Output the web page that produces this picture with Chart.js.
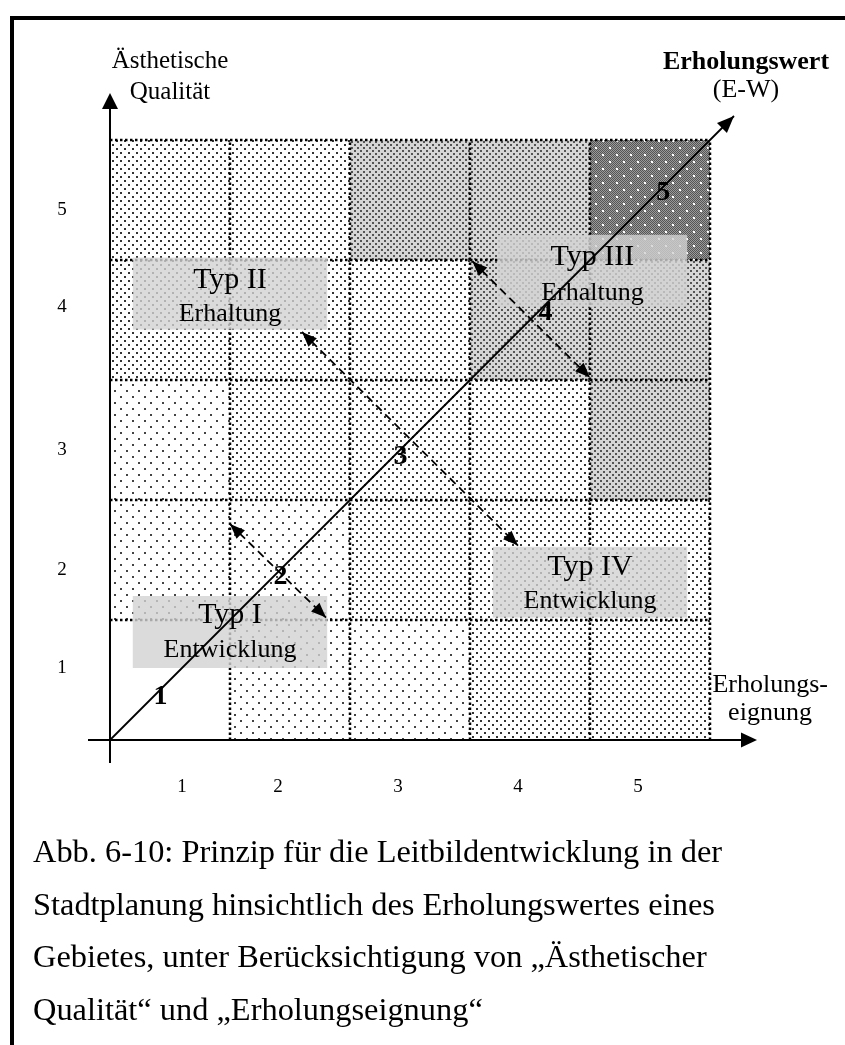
<!DOCTYPE html>
<html lang="de">
<head>
<meta charset="utf-8">
<script src="https://cdn.jsdelivr.net/npm/chart.js@4.4.1/dist/chart.umd.min.js"></script>
<style>
  html, body { margin: 0; padding: 0; background: #fff; }
  body { width: 845px; height: 1045px; position: relative; overflow: hidden; }
  #moldura { position: absolute; left: 10px; top: 16px; width: 850px; height: 1050px;
             border-left: 4px solid #000; border-top: 4px solid #000; }
  #grafico { position: absolute; left: 0; top: 0; }
  #legenda { position: absolute; left: 33px; top: 825px; color: #000; white-space: nowrap;
             font-family: "Liberation Serif", "Times New Roman", serif; font-size: 32.4px; line-height: 52.5px; }
</style>
</head>
<body>
<div id="moldura"></div>
<canvas id="grafico" width="845" height="1045"></canvas>
<div id="legenda">Abb. 6-10: Prinzip für die Leitbildentwicklung in der<br>Stadtplanung hinsichtlich des Erholungswertes eines<br>Gebietes, unter Berücksichtigung von „Ästhetischer<br>Qualität“ und „Erholungseignung“</div>

<script>
// Rótulos dos eixos (1..5) e posições onde aparecem na figura (unidades do eixo)
const rotulosEixo = ['1', '2', '3', '4', '5'];
const posRotulosX = [0.6, 1.4, 2.4, 3.4, 4.4];
const posRotulosY = [0.6, 1.42, 2.42, 3.61, 4.42];

// Nível de sombreado de cada célula (0 = branco ... 4 = mais escuro)
// uma lista por linha de "Ästhetische Qualität", colunas = "Erholungseignung" 1..5
const nivelQualidade1 = [0, 1, 1, 2, 2];
const nivelQualidade2 = [1, 1, 2, 2, 2];
const nivelQualidade3 = [1, 2, 2, 2, 3];
const nivelQualidade4 = [2, 2, 2, 3, 3];
const nivelQualidade5 = [2, 2, 3, 3, 4];
const niveis = [nivelQualidade1, nivelQualidade2, nivelQualidade3, nivelQualidade4, nivelQualidade5];

// Linha do Erholungswert (diagonal x = y) e marcas 1..5 ao longo dela
const linhaErholungswert = [0, 5.2];
const marcasValor = ['1', '2', '3', '4', '5'];
const marcasX = [0.42, 1.42, 2.42, 3.63, 4.61];
const marcasY = [0.36, 1.36, 2.36, 3.56, 4.56];

// Setas tracejadas (início -> fim)
const setaPequena = [[1.0, 1.8], [1.8, 1.02]];
const setaGrande = [[1.6, 3.4], [3.4, 1.62]];
const setaSuperior = [[3.02, 3.99], [4.0, 3.02]];

// Caixas dos tipos: [x0, x1, yTopo, yBase]
const tipos = ['Typ I', 'Typ II', 'Typ III', 'Typ IV'];
const subtitulos = ['Entwicklung', 'Erhaltung', 'Erhaltung', 'Entwicklung'];
const caixas = [[0.19, 1.81, 1.2, 0.6], [0.19, 1.81, 4.02, 3.42], [3.23, 4.81, 4.21, 3.61], [3.19, 4.81, 1.61, 1.02]];
const linhaTitulo = [0.975, 3.77, 3.96, 1.375];
const linhaSub = [0.69, 3.49, 3.67, 1.1];

const canvas = document.getElementById('grafico');
const ctxBase = canvas.getContext('2d');

// Cria um padrão de pontos para preencher as células
function criarPadrao(tam, fundo, pontos, corPonto, tamPonto, xadrez) {
    const c = document.createElement('canvas');
    c.width = tam; c.height = tam;
    const g = c.getContext('2d');
    g.fillStyle = fundo;
    g.fillRect(0, 0, tam, tam);
    if (xadrez) {
        g.fillStyle = xadrez;
        for (let i = 0; i < tam; i++) {
            for (let j = 0; j < tam; j++) {
                if ((i + j) % 2 === 0) g.fillRect(i, j, 1, 1);
            }
        }
    }
    g.fillStyle = corPonto;
    pontos.forEach(p => g.fillRect(p[0], p[1], tamPonto, tamPonto));
    return ctxBase.createPattern(c, 'repeat');
}

const padroes = [
    null,
    criarPadrao(12, '#fff', [[0, 0], [6, 6]], '#444', 2),
    criarPadrao(8, '#fff', [[0, 0], [4, 4]], '#333', 2),
    criarPadrao(6, '#d6d6d6', [[0, 0], [3, 3]], '#555', 2),
    criarPadrao(14, '#9a9a9a', [[0, 0], [7, 7]], '#fff', 2, '#555')
];

// Desenha uma ponta de seta cheia com a ponta em (x2, y2)
function pontaSeta(ctx, x1, y1, x2, y2, comp, larg) {
    const ang = Math.atan2(y2 - y1, x2 - x1);
    ctx.save();
    ctx.translate(x2, y2);
    ctx.rotate(ang);
    ctx.beginPath();
    ctx.moveTo(0, 0);
    ctx.lineTo(-comp, larg / 2);
    ctx.lineTo(-comp, -larg / 2);
    ctx.closePath();
    ctx.fillStyle = '#000';
    ctx.fill();
    ctx.restore();
}

function texto(ctx, str, px, py, fonte, alinhar, base) {
    ctx.font = fonte;
    ctx.textAlign = alinhar || 'center';
    ctx.textBaseline = base || 'alphabetic';
    ctx.fillStyle = '#000';
    ctx.fillText(str, px, py);
}

const serif = '"Liberation Serif", "Times New Roman", serif';

const pluginDesenho = {
    id: 'desenho',
    beforeDatasetsDraw(chart) {
        const ctx = chart.ctx;
        const sx = chart.scales.x, sy = chart.scales.y;
        ctx.save();

        // Células sombreadas
        niveis.forEach((linha, iy) => {
            linha.forEach((nivel, ix) => {
                if (!padroes[nivel]) return;
                const x0 = sx.getPixelForValue(ix), x1 = sx.getPixelForValue(ix + 1);
                const y0 = sy.getPixelForValue(iy + 1), y1 = sy.getPixelForValue(iy);
                ctx.fillStyle = padroes[nivel];
                ctx.fillRect(x0, y0, x1 - x0, y1 - y0);
            });
        });

        // Grade pontilhada
        ctx.strokeStyle = '#000';
        ctx.lineWidth = 2.5;
        ctx.setLineDash([2.5, 2.5]);
        for (let k = 1; k <= 5; k++) {
            ctx.beginPath();
            ctx.moveTo(sx.getPixelForValue(k), sy.getPixelForValue(0));
            ctx.lineTo(sx.getPixelForValue(k), sy.getPixelForValue(5));
            ctx.stroke();
            ctx.beginPath();
            ctx.moveTo(sx.getPixelForValue(0), sy.getPixelForValue(k));
            ctx.lineTo(sx.getPixelForValue(5), sy.getPixelForValue(k));
            ctx.stroke();
        }
        ctx.setLineDash([]);

        // Caixas cinzas dos tipos
        caixas.forEach((c, i) => {
            const x0 = sx.getPixelForValue(c[0]), x1 = sx.getPixelForValue(c[1]);
            const y0 = sy.getPixelForValue(c[2]), y1 = sy.getPixelForValue(c[3]);
            ctx.fillStyle = 'rgba(210,210,210,0.8)';
            ctx.fillRect(x0, y0, x1 - x0, y1 - y0);
            const cx = (x0 + x1) / 2;
            texto(ctx, tipos[i], cx, sy.getPixelForValue(linhaTitulo[i]), '30px ' + serif);
            texto(ctx, subtitulos[i], cx, sy.getPixelForValue(linhaSub[i]), '26px ' + serif);
        });

        // Eixos com setas
        ctx.strokeStyle = '#000';
        ctx.lineWidth = 2;
        const ox = sx.getPixelForValue(0), oy = sy.getPixelForValue(0);
        ctx.beginPath();
        ctx.moveTo(ox, sy.bottom);
        ctx.lineTo(ox, sy.top + 12);
        ctx.moveTo(sx.left, oy);
        ctx.lineTo(sx.right - 12, oy);
        ctx.stroke();
        pontaSeta(ctx, ox, oy, ox, sy.top, 16, 16);
        pontaSeta(ctx, ox, oy, sx.right, oy, 16, 15);

        ctx.restore();
    },
    afterDatasetsDraw(chart) {
        const ctx = chart.ctx;
        const sx = chart.scales.x, sy = chart.scales.y;
        ctx.save();

        // Pontas de seta das linhas
        chart.data.datasets.forEach((ds, i) => {
            const pts = chart.getDatasetMeta(i).data;
            const a = pts[0], b = pts[1];
            if (i === 0) {
                pontaSeta(ctx, a.x, a.y, b.x, b.y, 17, 14);
            } else {
                pontaSeta(ctx, a.x, a.y, b.x, b.y, 15, 12);
                pontaSeta(ctx, b.x, b.y, a.x, a.y, 15, 12);
            }
        });

        // Marcas 1..5 na diagonal
        marcasValor.forEach((m, i) => {
            texto(ctx, m, sx.getPixelForValue(marcasX[i]), sy.getPixelForValue(marcasY[i]), 'bold 28px ' + serif, 'center', 'middle');
        });

        // Rótulos numéricos dos eixos
        rotulosEixo.forEach((r, i) => {
            texto(ctx, r, sx.getPixelForValue(posRotulosX[i]), sy.getPixelForValue(-0.39), '19px ' + serif, 'center', 'middle');
            texto(ctx, r, sx.getPixelForValue(-0.4), sy.getPixelForValue(posRotulosY[i]), '19px ' + serif, 'center', 'middle');
        });

        // Títulos dos eixos
        texto(ctx, 'Ästhetische', sx.getPixelForValue(0.5), sy.getPixelForValue(5.6), '25px ' + serif);
        texto(ctx, 'Qualität', sx.getPixelForValue(0.5), sy.getPixelForValue(5.34), '25px ' + serif);
        texto(ctx, 'Erholungswert', sx.getPixelForValue(5.3), sy.getPixelForValue(5.59), 'bold 26px ' + serif);
        texto(ctx, '(E-W)', sx.getPixelForValue(5.3), sy.getPixelForValue(5.36), '26px ' + serif);
        texto(ctx, 'Erholungs-', sx.getPixelForValue(5.02), sy.getPixelForValue(0.4), '26px ' + serif, 'left');
        texto(ctx, 'eignung', sx.getPixelForValue(5.5), sy.getPixelForValue(0.17), '26px ' + serif);

        ctx.restore();
    }
};

function serieSeta(par) {
    return {
        data: par.map(p => ({ x: p[0], y: p[1] })),
        showLine: true,
        borderColor: '#000',
        borderWidth: 1.8,
        borderDash: [8, 5],
        pointRadius: 0
    };
}

new Chart(canvas, {
    type: 'scatter',
    data: {
        datasets: [
            {
                data: linhaErholungswert.map(v => ({ x: v, y: v })),
                showLine: true,
                borderColor: '#000',
                borderWidth: 1.8,
                pointRadius: 0
            },
            serieSeta(setaPequena),
            serieSeta(setaGrande),
            serieSeta(setaSuperior)
        ]
    },
    options: {
        responsive: false,
        animation: false,
        events: [],
        layout: { padding: { left: 88, right: 88, top: 93, bottom: 282 } },
        scales: {
            x: { type: 'linear', min: -0.1833, max: 5.3917, display: false },
            y: { type: 'linear', min: -0.1917, max: 5.3917, display: false }
        },
        plugins: {
            legend: { display: false },
            tooltip: { enabled: false }
        }
    },
    plugins: [pluginDesenho]
});
</script>
</body>
</html>
